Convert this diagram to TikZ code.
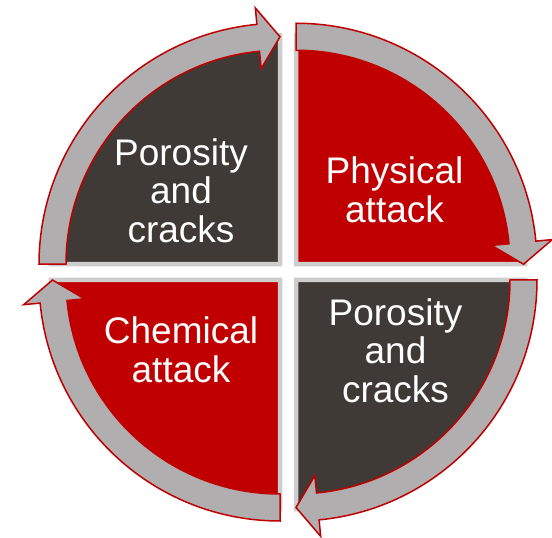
\documentclass[tikz,border=0pt]{standalone}
\usepackage{fontspec}
\setmainfont{Liberation Sans}
\definecolor{myred}{HTML}{C00000}
\definecolor{mydark}{HTML}{403A37}
\definecolor{myband}{HTML}{B0AEAE}
\definecolor{myshadow}{HTML}{CDCDCD}
\newcommand\quadband[3]{%
  \begin{scope}[shift={#1}]
    \draw[band] (#2:241) arc[start angle=#2, end angle={#3+5.5}, radius=241pt]
      -- ({#3+5.5}:257.5) -- (#3:227.5) -- ({#3+5.5}:196.5) -- ({#3+5.5}:214)
      arc[start angle={#3+5.5}, end angle=#2, radius=214pt] -- cycle;
  \end{scope}}
\begin{document}
\begin{tikzpicture}[x=1pt,y=1pt,
  sector/.style={draw=myshadow,line width=4.5pt},
  band/.style={fill=myband,draw=myred,line width=1.5pt,line join=miter},
  lbl/.style={text=white,align=center,font=\fontsize{37}{38.5}\selectfont,inner sep=0pt}]
\useasboundingbox (0,0) rectangle (552,538);
% sectors
\filldraw[sector,fill=mydark] (280,273.75) -- ++(180:229) arc[start angle=180,end angle=90,radius=229pt] -- cycle;
\filldraw[sector,fill=myred] (296,273.75) -- ++(90:229) arc[start angle=90,end angle=0,radius=229pt] -- cycle;
\filldraw[sector,fill=mydark] (296,258) -- ++(0:229) arc[start angle=0,end angle=-90,radius=229pt] -- cycle;
\filldraw[sector,fill=myred] (280,258) -- ++(-90:229) arc[start angle=-90,end angle=-180,radius=229pt] -- cycle;
% arrows
\quadband{(280,273.75)}{180}{90}
\quadband{(296,273.75)}{90}{0}
\quadband{(296,258)}{0}{-90}
\quadband{(280,258)}{-90}{-180}
% labels
\node[lbl] (tl) at (181,347.5) {Porosity\\and\\cracks};
\node[lbl] (tr) at (394.5,348) {Physical\\attack};
\node[lbl] (br) at (395.5,187.5) {Porosity\\and\\cracks};
\node[lbl] (bl) at (181,188) {Chemical\\attack};
\end{tikzpicture}
\end{document}
